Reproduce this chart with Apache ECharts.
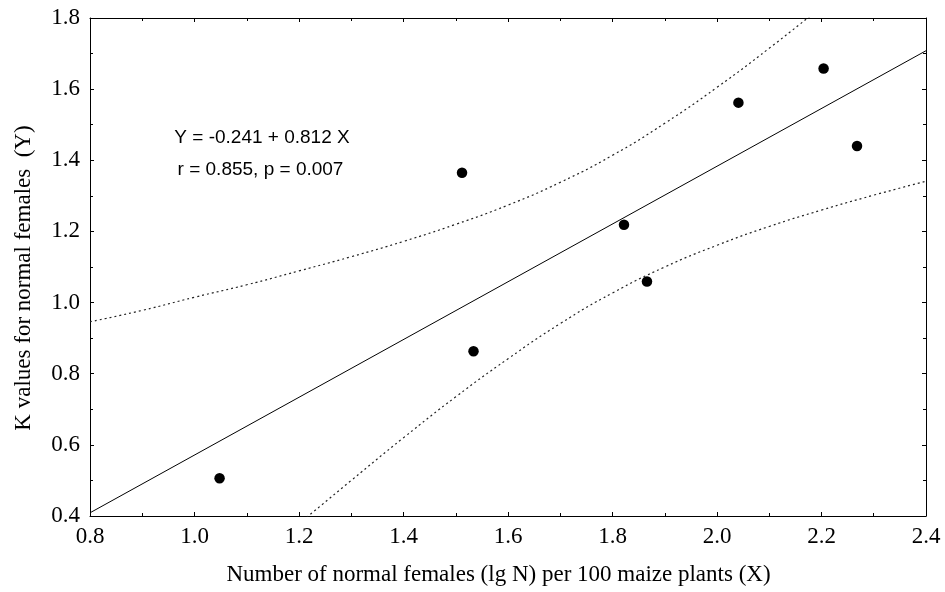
<!DOCTYPE html>
<html>
<head>
<meta charset="utf-8">
<script src="https://cdn.jsdelivr.net/npm/echarts@6/dist/echarts.min.js"></script>
<style>html,body{margin:0;padding:0;background:#fff}#c{width:945px;height:592px}</style>
</head>
<body>
<div id="c"></div>
<script>
// Observed data points (lg N, K)
var xVals = [1.048, 1.512, 1.534, 1.822, 1.866, 2.041, 2.204, 2.268];
var yVals = [0.506, 1.365, 0.863, 1.219, 1.059, 1.562, 1.658, 1.440];
// Regression line endpoints (Y = -0.241 + 0.812 X)
var fitX = [0.8, 2.4];
var fitY = [0.409, 1.708];
// Upper confidence band
var upperX = [0.8, 0.9, 1.0, 1.1, 1.2, 1.3, 1.4, 1.5, 1.6, 1.7, 1.8, 1.9, 2.0, 2.1, 2.2];
var upperY = [0.946, 0.978, 1.015, 1.050, 1.089, 1.129, 1.172, 1.220, 1.274, 1.338, 1.414, 1.504, 1.605, 1.715, 1.831];
// Lower confidence band
var lowerX = [1.2, 1.3, 1.4, 1.5, 1.6, 1.7, 1.8, 1.9, 2.0, 2.1, 2.2, 2.3, 2.4];
var lowerY = [0.378, 0.500, 0.620, 0.735, 0.842, 0.941, 1.027, 1.100, 1.161, 1.214, 1.260, 1.302, 1.341];
// Axis ranges / ticks
var xMin = 0.8, xMax = 2.4, xStep = 0.2;
var yMin = 0.4, yMax = 1.8, yStep = 0.2;
var eqText = 'Y = -0.241 + 0.812 X';
var statText = 'r = 0.855, p = 0.007';
var xTitle = 'Number of normal females (lg N) per 100 maize plants (X)';
var yTitle = 'K values for normal females  (Y)';

function zip(a, b) { return a.map(function (v, i) { return [v, b[i]]; }); }

var serif = '"Liberation Serif", "Times New Roman", serif';
var sans = '"Liberation Sans", Arial, sans-serif';
var axisCol = '#000';

function mkX(pos, showLabel) {
  return {
    type: 'value', position: pos, min: xMin, max: xMax, interval: xStep,
    axisLine: { show: true, onZero: false, lineStyle: { color: axisCol, width: 1 } },
    axisTick: { show: true, inside: true, length: 4, lineStyle: { color: axisCol } },
    minorTick: { show: true, splitNumber: 2, length: 3, lineStyle: { color: axisCol } },
    splitLine: { show: false },
    axisLabel: { show: showLabel, margin: 9, fontFamily: serif, fontSize: 23, color: '#000',
      formatter: function (v) { return v.toFixed(1); } }
  };
}
function mkY(pos, showLabel) {
  return {
    type: 'value', position: pos, min: yMin, max: yMax, interval: yStep,
    axisLine: { show: true, onZero: false, lineStyle: { color: axisCol, width: 1 } },
    axisTick: { show: true, inside: true, length: 4, lineStyle: { color: axisCol } },
    minorTick: { show: true, splitNumber: 2, length: 3, lineStyle: { color: axisCol } },
    splitLine: { show: false },
    axisLabel: { show: showLabel, margin: 10, fontFamily: serif, fontSize: 23, color: '#000',
      formatter: function (v) { return v.toFixed(1); } }
  };
}

var chart = echarts.init(document.getElementById('c'), null, { renderer: 'canvas' });
chart.setOption({
  animation: false,
  backgroundColor: '#fff',
  grid: { left: 90, right: 19, top: 18, bottom: 76, containLabel: false },
  xAxis: [mkX('bottom', true), mkX('top', false)],
  yAxis: [mkY('left', true), mkY('right', false)],
  series: [
    { type: 'line', data: zip(fitX, fitY), symbol: 'none', lineStyle: { color: '#000', width: 1 }, z: 2 },
    { type: 'line', data: zip(upperX, upperY), smooth: 0.5, symbol: 'none', clip: true,
      lineStyle: { color: '#222', width: 1.2, type: [2, 3] }, z: 2 },
    { type: 'line', data: zip(lowerX, lowerY), smooth: 0.5, symbol: 'none', clip: true,
      lineStyle: { color: '#222', width: 1.2, type: [2, 3] }, z: 2 },
    { type: 'scatter', data: zip(xVals, yVals), symbol: 'circle', symbolSize: 10.5,
      itemStyle: { color: '#000', opacity: 1 }, emphasis: { disabled: true }, z: 3 }
  ],
  graphic: [
    { type: 'text', x: 262, y: 137.5, style: { text: eqText, font: '19px ' + sans, fill: '#000', align: 'center', verticalAlign: 'middle' } },
    { type: 'text', x: 260.5, y: 170, style: { text: statText, font: '19px ' + sans, fill: '#000', align: 'center', verticalAlign: 'middle' } },
    { type: 'text', x: 498.5, y: 575, style: { text: xTitle, font: '23px ' + serif, fill: '#000', align: 'center', verticalAlign: 'middle' } },
    { type: 'text', x: 24, y: 278, rotation: Math.PI / 2, style: { text: yTitle, font: '23px ' + serif, fill: '#000', align: 'center', verticalAlign: 'middle' } }
  ]
});
</script>
</body>
</html>
